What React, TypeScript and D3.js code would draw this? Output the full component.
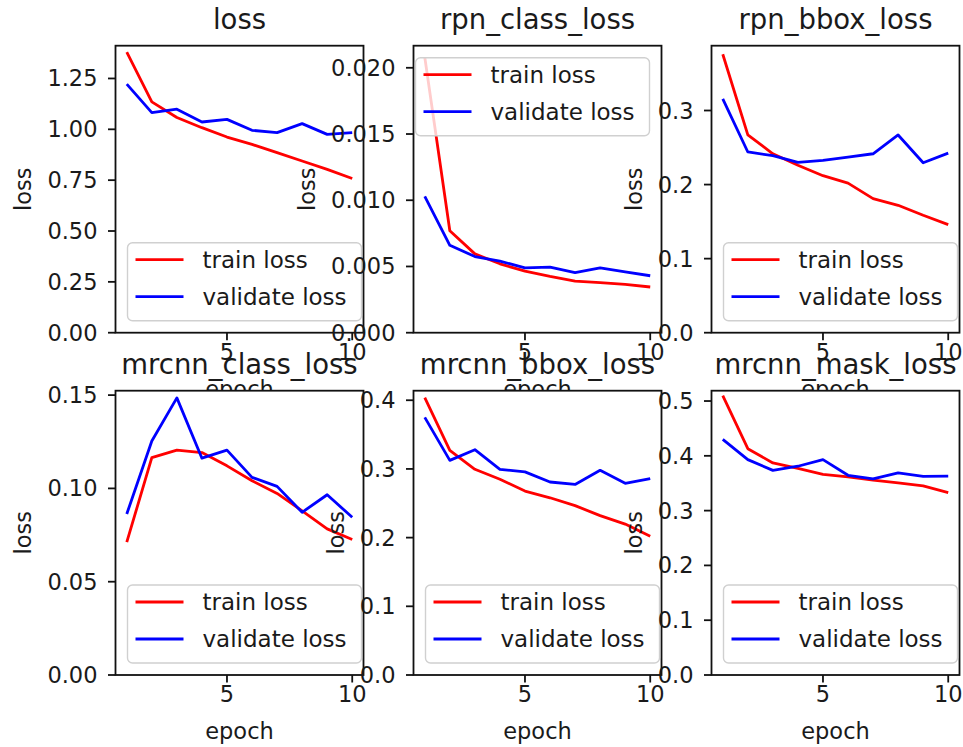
import React, { useEffect, useRef } from "react";
import * as d3 from "d3";

const epochs = [1, 2, 3, 4, 5, 6, 7, 8, 9, 10];
const titles = ["loss", "rpn_class_loss", "rpn_bbox_loss", "mrcnn_class_loss", "mrcnn_bbox_loss", "mrcnn_mask_loss"];
const seriesNames = ["train loss", "validate loss"];
const xTicks = [5, 10];

const lossTrain = [1.38, 1.135, 1.058, 1.008, 0.962, 0.926, 0.885, 0.844, 0.803, 0.758];
const lossVal = [1.222, 1.082, 1.099, 1.036, 1.049, 0.995, 0.984, 1.028, 0.975, 0.984];
const rpnClassTrain = [0.0208, 0.0077, 0.00595, 0.0052, 0.00465, 0.00425, 0.0039, 0.00378, 0.00365, 0.00345];
const rpnClassVal = [0.0103, 0.0066, 0.00575, 0.0054, 0.0049, 0.00495, 0.00453, 0.0049, 0.0046, 0.0043];
const rpnBboxTrain = [0.376, 0.267, 0.2416, 0.226, 0.212, 0.202, 0.181, 0.172, 0.1585, 0.146];
const rpnBboxVal = [0.3157, 0.244, 0.239, 0.23, 0.2326, 0.237, 0.2416, 0.267, 0.2295, 0.2425];
const mrcnnClassTrain = [0.0712, 0.1165, 0.1205, 0.1192, 0.1121, 0.1041, 0.0973, 0.088, 0.0783, 0.0726];
const mrcnnClassVal = [0.0863, 0.1254, 0.1485, 0.1162, 0.1205, 0.1059, 0.1011, 0.0872, 0.0966, 0.0845];
const mrcnnBboxTrain = [0.4038, 0.3269, 0.2995, 0.285, 0.2678, 0.258, 0.2466, 0.232, 0.2197, 0.202];
const mrcnnBboxVal = [0.375, 0.3125, 0.328, 0.2995, 0.2957, 0.281, 0.2774, 0.298, 0.279, 0.286];
const mrcnnMaskTrain = [0.51, 0.413, 0.387, 0.377, 0.366, 0.3615, 0.3555, 0.3505, 0.345, 0.333];
const mrcnnMaskVal = [0.43, 0.393, 0.3735, 0.381, 0.393, 0.3645, 0.358, 0.369, 0.3625, 0.363];

const yTicks0 = [0, 0.25, 0.5, 0.75, 1.0, 1.25];
const yTicks1 = [0, 0.005, 0.01, 0.015, 0.02];
const yTicks2 = [0, 0.1, 0.2, 0.3];
const yTicks3 = [0, 0.05, 0.1, 0.15];
const yTicks4 = [0, 0.1, 0.2, 0.3, 0.4];
const yTicks5 = [0, 0.1, 0.2, 0.3, 0.4, 0.5];
const yDecimals = [2, 3, 1, 2, 1, 1];
const legendLoc = ["lower left", "upper right", "lower left", "lower left", "lower left", "lower left"];

const panels = [
  { title: titles[0], train: lossTrain, val: lossVal, ticks: yTicks0 },
  { title: titles[1], train: rpnClassTrain, val: rpnClassVal, ticks: yTicks1 },
  { title: titles[2], train: rpnBboxTrain, val: rpnBboxVal, ticks: yTicks2 },
  { title: titles[3], train: mrcnnClassTrain, val: mrcnnClassVal, ticks: yTicks3 },
  { title: titles[4], train: mrcnnBboxTrain, val: mrcnnBboxVal, ticks: yTicks4 },
  { title: titles[5], train: mrcnnMaskTrain, val: mrcnnMaskVal, ticks: yTicks5 },
];

const W = 963;
const H = 747;
const colLefts = [115.5, 413.5, 711.5];
const axW = 248;
const rowTops = [45.7, 390.7];
const rowHeights = [287, 284.3];
const FONT = "'DejaVu Sans', sans-serif";
const TICK_FS = 22.5;
const LEG_FS = 23;
const TITLE_FS = 27.5;
const RED = "#ff0000";
const BLUE = "#0000ff";
const TXT = "#1a1a1a";

export default function App() {
  const ref = useRef<SVGSVGElement | null>(null);

  useEffect(() => {
    const svg = d3.select(ref.current);
    svg.selectAll("*").remove();
    svg.append("rect").attr("width", W).attr("height", H).attr("fill", "#ffffff");

    panels.forEach((p, i) => {
      const col = i % 3;
      const row = Math.floor(i / 3);
      const left = colLefts[col];
      const top = rowTops[row];
      const h = rowHeights[row];
      const right = left + axW;
      const bottom = top + h;

      const all = p.train.concat(p.val);
      const mx = d3.max(all) as number;
      const mn = d3.min(all) as number;
      const yTop = mx + 0.05 * (mx - mn);

      const x = d3.scaleLinear().domain([0.55, 10.45]).range([left, right]);
      const y = d3.scaleLinear().domain([0, yTop]).range([bottom, top]);

      const g = svg.append("g");
      g.append("rect")
        .attr("x", left).attr("y", top).attr("width", axW).attr("height", h)
        .attr("fill", "#ffffff");

      const line = d3.line<number>()
        .x((_, k) => x(epochs[k]))
        .y((d) => y(d));

      g.append("path").datum(p.train).attr("d", line).attr("fill", "none")
        .attr("stroke", RED).attr("stroke-width", 2.8).attr("stroke-linejoin", "round").attr("stroke-linecap", "butt");
      g.append("path").datum(p.val).attr("d", line).attr("fill", "none")
        .attr("stroke", BLUE).attr("stroke-width", 2.8).attr("stroke-linejoin", "round").attr("stroke-linecap", "butt");

      // spines
      g.append("rect")
        .attr("x", left).attr("y", top).attr("width", axW).attr("height", h)
        .attr("fill", "none").attr("stroke", "#111").attr("stroke-width", 1.8);

      // x ticks
      const xt = g.append("g");
      xTicks.forEach((t) => {
        xt.append("line").attr("x1", x(t)).attr("x2", x(t)).attr("y1", bottom).attr("y2", bottom + 7.5)
          .attr("stroke", "#111").attr("stroke-width", 1.8);
        xt.append("text").attr("x", x(t)).attr("y", bottom + 27).attr("text-anchor", "middle")
          .attr("font-family", FONT).attr("font-size", TICK_FS).attr("fill", TXT).text(String(t));
      });

      // y ticks
      const yt = g.append("g");
      const ytl = g.append("g");
      const fmt = d3.format(`.${yDecimals[i]}f`);
      p.ticks.forEach((t) => {
        yt.append("line").attr("x1", left - 7.5).attr("x2", left).attr("y1", y(t)).attr("y2", y(t))
          .attr("stroke", "#111").attr("stroke-width", 1.8);
        ytl.append("text").attr("x", left - 18).attr("y", y(t) + 8).attr("text-anchor", "end")
          .attr("font-family", FONT).attr("font-size", TICK_FS).attr("fill", TXT).text(fmt(t));
      });
      const bb = (ytl.node() as SVGGElement).getBBox();
      const lx = bb.x - 16;
      const cy = (top + bottom) / 2;
      g.append("text").attr("transform", `translate(${lx},${cy}) rotate(-90)`)
        .attr("text-anchor", "middle").attr("font-family", FONT).attr("font-size", TICK_FS)
        .attr("fill", TXT).text("loss");

      // x label
      g.append("text").attr("x", (left + right) / 2).attr("y", bottom + 64).attr("text-anchor", "middle")
        .attr("font-family", FONT).attr("font-size", TICK_FS).attr("fill", TXT).text("epoch");

      // legend
      const lw = 234;
      const lh = 78;
      let lxl: number, lyt: number;
      if (legendLoc[i] === "upper right") {
        lxl = right - 12 - lw;
        lyt = top + 12;
      } else {
        lxl = left + 12;
        lyt = bottom - 12 - lh;
      }
      const lg = g.append("g");
      lg.append("rect").attr("x", lxl).attr("y", lyt).attr("width", lw).attr("height", lh)
        .attr("rx", 5).attr("fill", "#ffffff").attr("fill-opacity", 0.8)
        .attr("stroke", "#d0d0d0").attr("stroke-width", 1.4);
      const colors = [RED, BLUE];
      seriesNames.forEach((name, k) => {
        const ry = lyt + 17 + k * 37;
        lg.append("line").attr("x1", lxl + 8).attr("x2", lxl + 56).attr("y1", ry).attr("y2", ry)
          .attr("stroke", colors[k]).attr("stroke-width", 2.8);
        lg.append("text").attr("x", lxl + 75).attr("y", ry + 8)
          .attr("font-family", FONT).attr("font-size", LEG_FS).attr("fill", TXT).text(name);
      });

      // title
      g.append("text").attr("x", (left + right) / 2).attr("y", top - 17).attr("text-anchor", "middle")
        .attr("font-family", FONT).attr("font-size", TITLE_FS).attr("fill", TXT).text(p.title);
    });
  }, []);

  return (
    <div style={{ position: "absolute", left: 0, top: 0 }}>
      <svg ref={ref} width={W} height={H} style={{ display: "block" }} />
    </div>
  );
}
